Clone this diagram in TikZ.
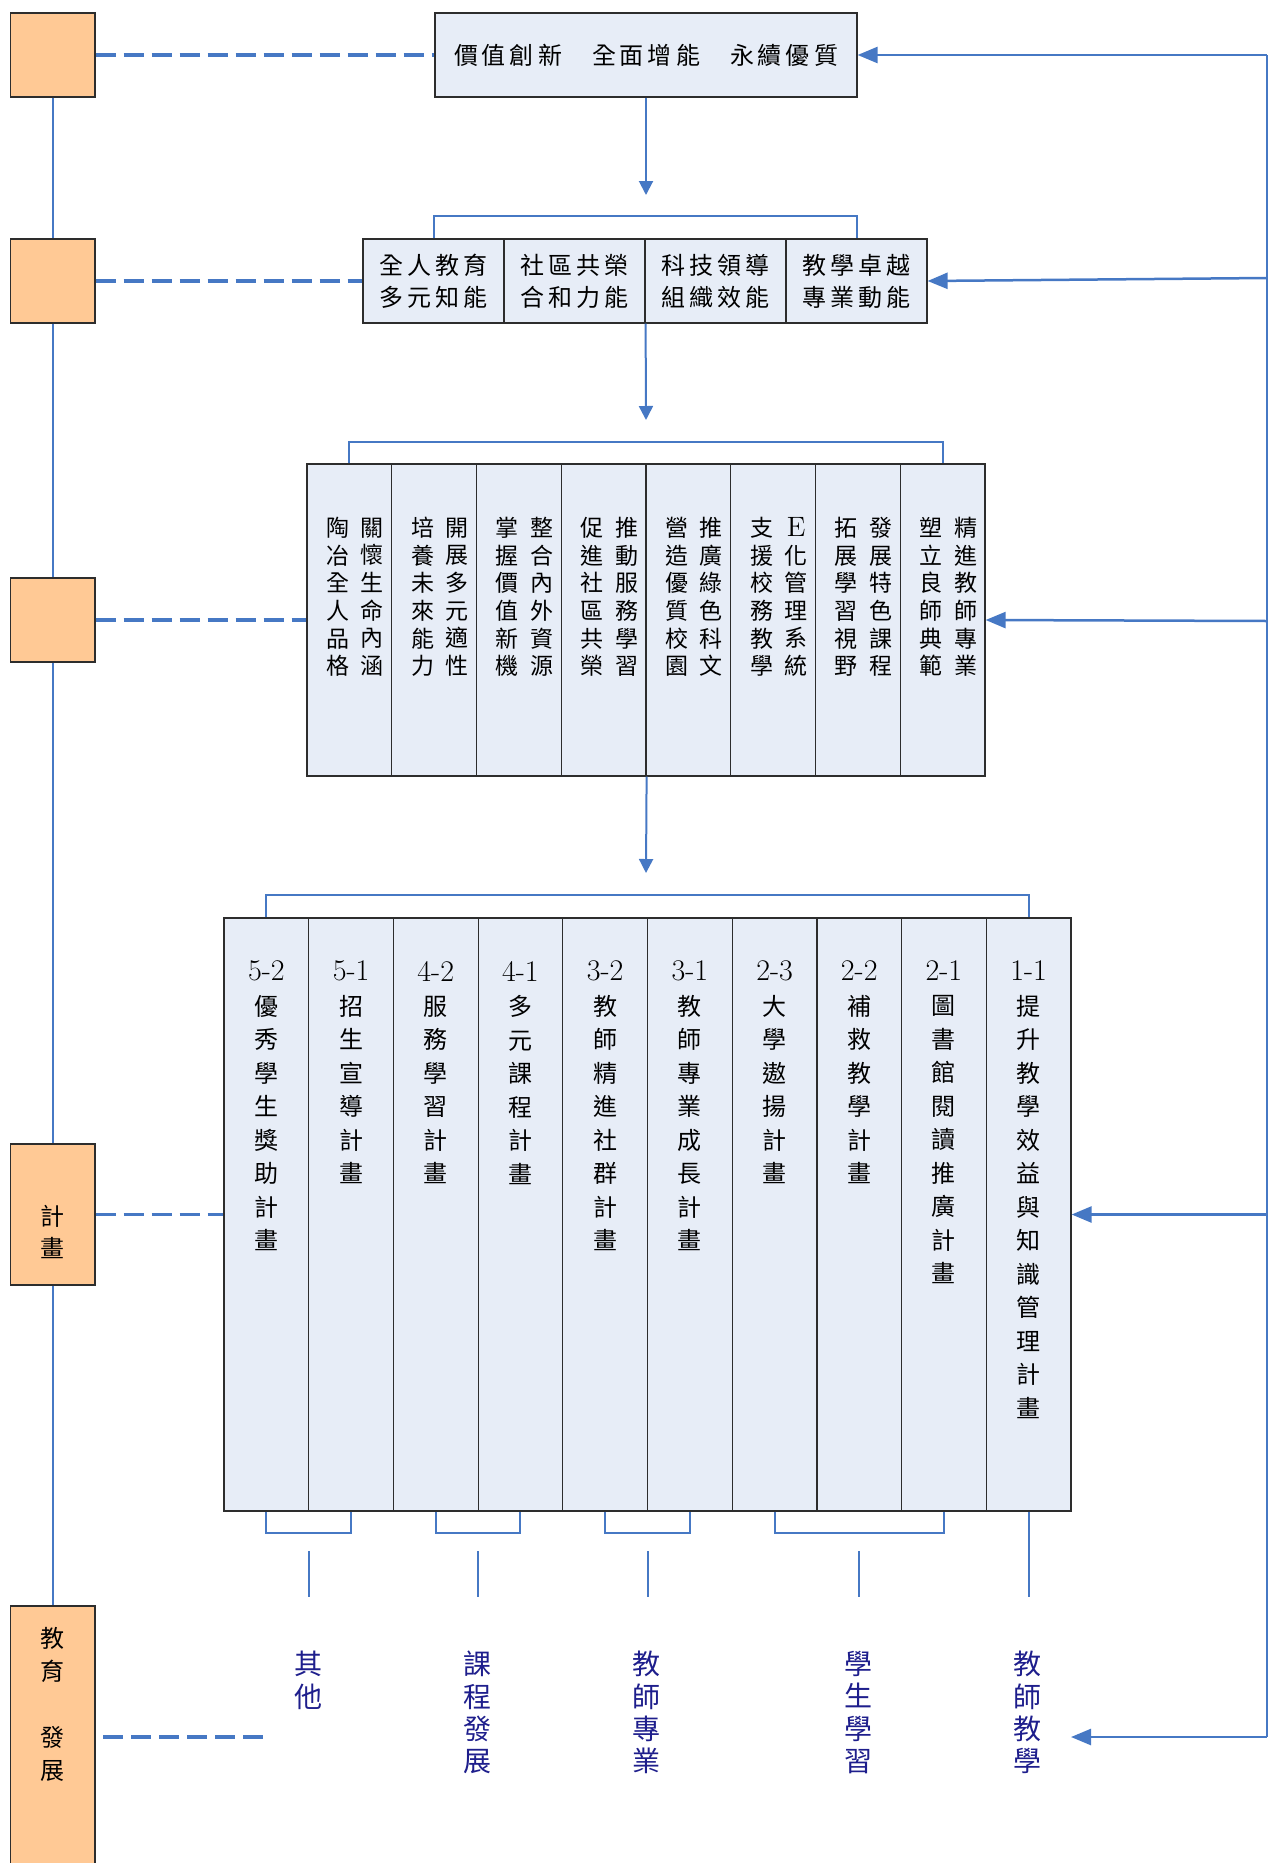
\documentclass[tikz,border=0pt]{standalone}
\usepackage{fontspec}
\newfontfamily\cjk{Noto Sans CJK TC}
\usetikzlibrary{arrows.meta}
\definecolor{lblue}{RGB}{70,120,196}
\definecolor{orfill}{RGB}{255,201,149}
\definecolor{cellfill}{RGB}{231,237,247}
\definecolor{bordc}{RGB}{45,45,45}
\definecolor{navy}{RGB}{30,30,140}
\begin{document}
\begin{tikzpicture}[x=0.5pt,y=-0.5pt,
  obox/.style={draw=bordc, line width=0.6pt, fill=orfill, minimum width=42.25pt, inner sep=0pt},
  cellbox/.style={draw=bordc, line width=0.6pt, fill=cellfill, inner sep=0pt},
  conn/.style={draw=lblue, line width=1pt},
  dashconn/.style={draw=lblue, line width=1.75pt, dash pattern=on 10pt off 4pt},
  downarr/.style={conn, -{Triangle[length=7pt,width=7pt]}},
  sideline/.style={draw=lblue, line width=1.25pt},
  sidearr/.style={draw=lblue, line width=1.25pt, -{Triangle[length=10pt,width=8pt]}},
  txtA/.style={font=\cjk\fontsize{12}{16}\selectfont, inner sep=0pt, align=center},
  txtB/.style={font=\cjk\fontsize{11.5}{13.8}\selectfont, inner sep=0pt, align=center},
  txtC/.style={font=\cjk\fontsize{12}{16.75}\selectfont, inner sep=0pt, align=center},
  numC/.style={font=\fontsize{15}{16}\selectfont, inner sep=0pt},
  txtL/.style={font=\cjk\fontsize{12}{15.75}\selectfont, inner sep=0pt, align=center},
  txtD/.style={font=\cjk\fontsize{14}{16.2}\selectfont, text=navy, inner sep=0pt, align=center},
  lvl2/.style={cellbox, minimum width=70.5pt, minimum height=42pt},
  lvl3/.style={cellbox, minimum width=42.375pt, minimum height=156pt},
  lvl4/.style={cellbox, minimum width=42.35pt, minimum height=296.5pt}
]
\useasboundingbox (0,0) rectangle (1272,1863);
\clip (0,0) rectangle (1272,1863);

% left column boxes
\node[obox, minimum height=42pt] (L1) at (52.75,55) {};
\node[obox, minimum height=42pt] (L2) at (52.75,281) {};
\node[obox, minimum height=42pt] (L3) at (52.75,620) {};
\node[obox, minimum height=70.5pt] (L4) at (52.75,1214.5) {};
\node[obox, minimum height=132pt] (L5) at (52.75,1738) {};
\node[txtL] (L4t) at (52.75,1232) {計\\畫};
\node[txtL, font=\cjk\fontsize{12}{16.5}\selectfont] (L5t) at (52.75,1704) {教\\育\\~\\發\\展};

% top box
\node[cellbox, minimum width=211pt, minimum height=42pt] (T) at (646,55)
  {\cjk\fontsize{12}{14}\selectfont 價\,值\,創\,新\hspace{15pt}全\,面\,增\,能\hspace{15pt}永\,續\,優\,質};

% level 2
\node[lvl2, txtA] (c2a) at (433.5,281) {全\,人\,教\,育\\多\,元\,知\,能};
\node[lvl2, txtA] (c2b) at (574.5,281) {社\,區\,共\,榮\\合\,和\,力\,能};
\node[lvl2, txtA] (c2c) at (715.5,281) {科\,技\,領\,導\\組\,織\,效\,能};
\node[lvl2, txtA] (c2d) at (856.5,281) {教\,學\,卓\,越\\專\,業\,動\,能};

% level 3
\node[lvl3] (c3a) at (349.375,620) {};
\node[lvl3] (c3b) at (434.125,620) {};
\node[lvl3] (c3c) at (518.875,620) {};
\node[lvl3] (c3d) at (603.625,620) {};
\node[lvl3] (c3e) at (688.375,620) {};
\node[lvl3] (c3f) at (773.125,620) {};
\node[lvl3] (c3g) at (857.875,620) {};
\node[lvl3] (c3h) at (942.625,620) {};
\node[txtB] (t3a1) at (372.4,597) {關\\懷\\生\\命\\內\\涵};
\node[txtB] (t3a2) at (337.9,597) {陶\\冶\\全\\人\\品\\格};
\node[txtB] (t3b1) at (457.1,597) {開\\展\\多\\元\\適\\性};
\node[txtB] (t3b2) at (422.6,597) {培\\養\\未\\來\\能\\力};
\node[txtB] (t3c1) at (541.9,597) {整\\合\\內\\外\\資\\源};
\node[txtB] (t3c2) at (507.4,597) {掌\\握\\價\\值\\新\\機};
\node[txtB] (t3d1) at (626.6,597) {推\\動\\服\\務\\學\\習};
\node[txtB] (t3d2) at (592.1,597) {促\\進\\社\\區\\共\\榮};
\node[txtB] (t3e1) at (711.4,597) {推\\廣\\綠\\色\\科\\文};
\node[txtB] (t3e2) at (676.9,597) {營\\造\\優\\質\\校\\園};
\node[txtB] (t3f1) at (796.1,597) {{\rmfamily\fontsize{14}{13.8}\selectfont E}\\化\\管\\理\\系\\統};
\node[txtB] (t3f2) at (761.6,597) {支\\援\\校\\務\\教\\學};
\node[txtB] (t3g1) at (880.9,597) {發\\展\\特\\色\\課\\程};
\node[txtB] (t3g2) at (846.4,597) {拓\\展\\學\\習\\視\\野};
\node[txtB] (t3h1) at (965.6,597) {精\\進\\教\\師\\專\\業};
\node[txtB] (t3h2) at (931.1,597) {塑\\立\\良\\師\\典\\範};

% level 4
\node[lvl4] (c4a) at (266.35,1214.5) {};
\node[lvl4] (c4b) at (351.05,1214.5) {};
\node[lvl4] (c4c) at (435.75,1214.5) {};
\node[lvl4] (c4d) at (520.45,1214.5) {};
\node[lvl4] (c4e) at (605.15,1214.5) {};
\node[lvl4] (c4f) at (689.85,1214.5) {};
\node[lvl4] (c4g) at (774.55,1214.5) {};
\node[lvl4] (c4h) at (859.25,1214.5) {};
\node[lvl4] (c4i) at (943.95,1214.5) {};
\node[lvl4] (c4j) at (1028.65,1214.5) {};
\node[numC] (n4a) at (266.35,971) {5-2};
\node[numC] (n4b) at (351.05,971) {5-1};
\node[numC] (n4c) at (435.75,971) {4-2};
\node[numC] (n4d) at (520.45,971) {4-1};
\node[numC] (n4e) at (605.15,971) {3-2};
\node[numC] (n4f) at (689.85,971) {3-1};
\node[numC] (n4g) at (774.55,971) {2-3};
\node[numC] (n4h) at (859.25,971) {2-2};
\node[numC] (n4i) at (943.95,971) {2-1};
\node[numC] (n4j) at (1028.65,971) {1-1};
\node[txtC] (t4a) at (266.35,1123.25) {優\\秀\\學\\生\\獎\\助\\計\\畫};
\node[txtC] (t4b) at (351.05,1089.75) {招\\生\\宣\\導\\計\\畫};
\node[txtC] (t4c) at (435.75,1089.75) {服\\務\\學\\習\\計\\畫};
\node[txtC] (t4d) at (520.45,1089.75) {多\\元\\課\\程\\計\\畫};
\node[txtC] (t4e) at (605.15,1123.25) {教\\師\\精\\進\\社\\群\\計\\畫};
\node[txtC] (t4f) at (689.85,1123.25) {教\\師\\專\\業\\成\\長\\計\\畫};
\node[txtC] (t4g) at (774.55,1089.75) {大\\學\\遨\\揚\\計\\畫};
\node[txtC] (t4h) at (859.25,1089.75) {補\\救\\教\\學\\計\\畫};
\node[txtC] (t4i) at (943.95,1140) {圖\\書\\館\\閱\\讀\\推\\廣\\計\\畫};
\node[txtC] (t4j) at (1028.65,1207) {提\\升\\教\\學\\效\\益\\與\\知\\識\\管\\理\\計\\畫};

% bottom labels
\node[txtD] (b1) at (308,1680.2) {其\\他};
\node[txtD] (b2) at (477,1712.6) {課\\程\\發\\展};
\node[txtD] (b3) at (646,1712.6) {教\\師\\專\\業};
\node[txtD] (b4) at (858,1712.6) {學\\生\\學\\習};
\node[txtD] (b5) at (1027,1712.6) {教\\師\\教\\學};

% left vertical connectors
\draw[conn] (L1.south) -- (L2.north);
\draw[conn] (L2.south) -- (L3.north);
\draw[conn] (L3.south) -- (L4.north);
\draw[conn] (L4.south) -- (L5.north);

% dashed connectors
\draw[dashconn] (L1.east) -- (T.west);
\draw[dashconn] (L2.east) -- (c2a.west);
\draw[dashconn] (L3.east) -- (c3a.west);
\draw[dashconn] (L4.east) -- (c4a.west);
\coordinate (d5a) at (103,1737);
\coordinate (d5b) at (266,1737);
\draw[dashconn] (d5a) -- (d5b);

% down arrows
\coordinate (a1) at (646,195);
\coordinate (a2) at (646,420);
\coordinate (a3) at (646,873);
\draw[downarr] (T.south) -- (a1);
\draw[downarr] (c2b.south east) -- (a2);
\draw[downarr] (c3d.south east) -- (a3);

% top brackets
\draw[conn] (c2a.north) -- ++(0,-22) -| (c2d.north);
\draw[conn] (c3a.north) -- ++(0,-21) -| (c3h.north);
\draw[conn] (c4a.north) -- ++(0,-22) -| (c4j.north);

% bottom brackets
\draw[conn] (c4a.south) -- ++(0,21) -| (c4b.south);
\draw[conn] (c4c.south) -- ++(0,21) -| (c4d.south);
\draw[conn] (c4e.south) -- ++(0,21) -| (c4f.south);
\draw[conn] (c4g.south) -- ++(0,21) -| (c4i.south);
\coordinate (e5) at (1028.65,1597);
\draw[conn] (c4j.south) -- (e5);
\coordinate (v1a) at (308.7,1551); \coordinate (v1b) at (308.7,1597);
\coordinate (v2a) at (478.1,1551); \coordinate (v2b) at (478.1,1597);
\coordinate (v3a) at (647.5,1551); \coordinate (v3b) at (647.5,1597);
\coordinate (v4a) at (859.25,1551); \coordinate (v4b) at (859.25,1597);
\draw[conn] (v1a) -- (v1b);
\draw[conn] (v2a) -- (v2b);
\draw[conn] (v3a) -- (v3b);
\draw[conn] (v4a) -- (v4b);

% right feedback line
\coordinate (rt) at (1267,55);
\coordinate (r2) at (1267,278);
\coordinate (r3) at (1267,621);
\coordinate (r4) at (1267,1214.5);
\coordinate (rb) at (1267,1737);
\coordinate (tip5) at (1071,1737);
\draw[sideline] (rt) -- (rb);
\draw[sidearr] (rt) -- (T.east);
\draw[sidearr] (r2) -- (c2d.east);
\draw[sidearr] (r3) -- (c3h.east);
\draw[sidearr] (r4) -- (c4j.east);
\draw[sidearr] (rb) -- (tip5);
\end{tikzpicture}
\end{document}
